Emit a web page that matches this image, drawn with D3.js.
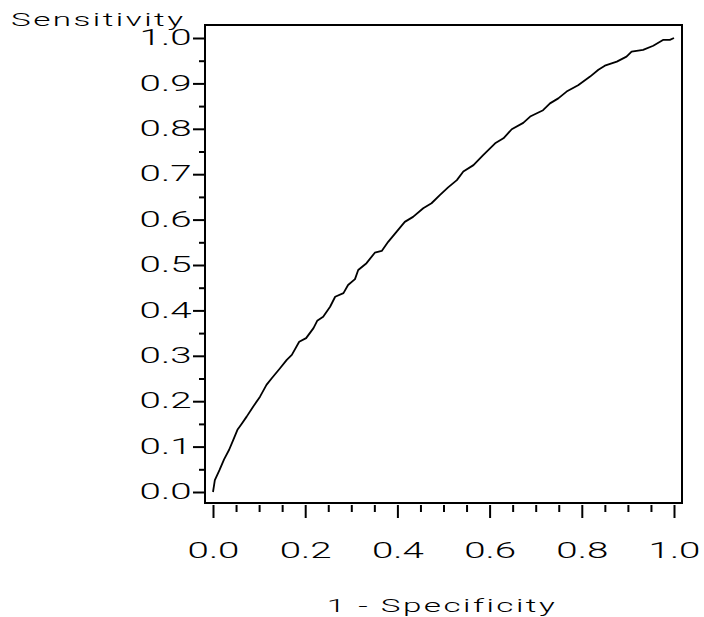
<!DOCTYPE html>
<html>
<head>
<meta charset="utf-8">
<script src="https://cdn.jsdelivr.net/npm/d3@7"></script>
<style>
  body { margin: 0; background: #fff; }
  text { font-family: Roboto, "Liberation Sans", Arial, sans-serif; font-weight: 300; fill: #000; }
</style>
</head>
<body>
<script>

// ROC curve
var fpr = [0, 0.004, 0.014, 0.024, 0.035, 0.044, 0.053, 0.062, 0.073, 0.087,
           0.102, 0.116, 0.127, 0.145, 0.160, 0.171, 0.187, 0.202, 0.218, 0.226,
           0.239, 0.254, 0.265, 0.283, 0.293, 0.308, 0.315, 0.333, 0.351, 0.366,
           0.380, 0.398, 0.416, 0.434, 0.456, 0.474, 0.492, 0.510, 0.529, 0.543,
           0.565, 0.586, 0.612, 0.630, 0.648, 0.673, 0.688, 0.716, 0.731, 0.749,
           0.767, 0.792, 0.818, 0.836, 0.850, 0.876, 0.897, 0.908, 0.933, 0.955,
           0.977, 0.991, 1.0];
var tpr = [0, 0.026, 0.048, 0.072, 0.093, 0.115, 0.137, 0.150, 0.166, 0.188,
           0.210, 0.236, 0.250, 0.272, 0.291, 0.302, 0.331, 0.339, 0.361, 0.377,
           0.386, 0.408, 0.430, 0.438, 0.456, 0.469, 0.489, 0.504, 0.527, 0.531,
           0.551, 0.573, 0.595, 0.606, 0.625, 0.636, 0.654, 0.671, 0.687, 0.706,
           0.720, 0.742, 0.768, 0.779, 0.799, 0.813, 0.827, 0.841, 0.856, 0.867,
           0.882, 0.896, 0.915, 0.930, 0.939, 0.948, 0.959, 0.970, 0.974, 0.983,
           0.996, 0.996, 1.0];

var xMajor = [0, 0.2, 0.4, 0.6, 0.8, 1.0];
var xMinor = [0.05, 0.1, 0.15, 0.25, 0.3, 0.35, 0.45, 0.5, 0.55, 0.65, 0.7, 0.75, 0.85, 0.9, 0.95];
var yMajor = [0, 0.1, 0.2, 0.3, 0.4, 0.5, 0.6, 0.7, 0.8, 0.9, 1.0];
var yMinor = [0.05, 0.15, 0.25, 0.35, 0.45, 0.55, 0.65, 0.75, 0.85, 0.95];

var xTitle = "1 - Specificity",
    yTitle = "Sensitivity";

var W = 704, H = 617,
    frame = {left: 205, top: 25, right: 682, bottom: 503},
    stretch = 1.75;   // the original font is drawn wide

var svg = d3.select("body").append("svg")
    .attr("width", W).attr("height", H);

var x = d3.scaleLinear().domain([0, 1]).range([213, 674]);
var y = d3.scaleLinear().domain([0, 1]).range([492, 38]);

// frame
svg.append("rect")
    .attr("x", frame.left).attr("y", frame.top)
    .attr("width", frame.right - frame.left).attr("height", frame.bottom - frame.top)
    .attr("fill", "none").attr("stroke", "#000").attr("stroke-width", 2);

function styleAxis(g) {
  g.select(".domain").remove();
  g.selectAll(".tick line").attr("stroke", "#000").attr("stroke-width", 2);
}

// y axis
var gy = svg.append("g").attr("transform", "translate(" + frame.left + ",0)");
gy.append("g").call(d3.axisLeft(y).tickValues(yMinor).tickSize(6).tickFormat(""))
    .call(styleAxis);
gy.append("g").call(d3.axisLeft(y).tickValues(yMajor).tickSize(12).tickFormat(d3.format(".1f")))
    .call(styleAxis)
    .call(g => g.selectAll(".tick text")
        .attr("x", 0).attr("dy", null)
        .attr("text-anchor", "end")
        .attr("font-size", 22)
        .attr("font-family", null)
        .attr("fill", "#000")
        .attr("transform", "translate(-13.5,6.7) scale(" + stretch + ",1)"));

// x axis
var gx = svg.append("g").attr("transform", "translate(0,505)");
gx.append("g").call(d3.axisBottom(x).tickValues(xMinor).tickSize(7).tickFormat(""))
    .call(styleAxis);
gx.append("g").call(d3.axisBottom(x).tickValues(xMajor).tickSize(13).tickFormat(d3.format(".1f")))
    .call(styleAxis)
    .call(g => g.selectAll(".tick text")
        .attr("y", 0).attr("dy", null)
        .attr("text-anchor", "middle")
        .attr("font-size", 22)
        .attr("font-family", null)
        .attr("fill", "#000")
        .attr("transform", "translate(0,53) scale(" + stretch + ",1)"));

// titles
svg.append("text")
    .attr("transform", "translate(11,26) scale(" + stretch + ",1)")
    .attr("font-size", 19)
    .attr("letter-spacing", 1.4)
    .text(yTitle);

svg.append("text")
    .attr("transform", "translate(442,611.7) scale(" + stretch + ",1)")
    .attr("text-anchor", "middle")
    .attr("font-size", 19)
    .attr("letter-spacing", 1.4)
    .text(xTitle);

// curve
var pts = fpr.map((d, i) => [d, tpr[i]]);
svg.append("path")
    .datum(pts)
    .attr("fill", "none")
    .attr("stroke", "#000")
    .attr("stroke-width", 1.8)
    .attr("stroke-linejoin", "round")
    .attr("d", d3.line().x(d => x(d[0])).y(d => y(d[1])));

</script>
</body>
</html>
